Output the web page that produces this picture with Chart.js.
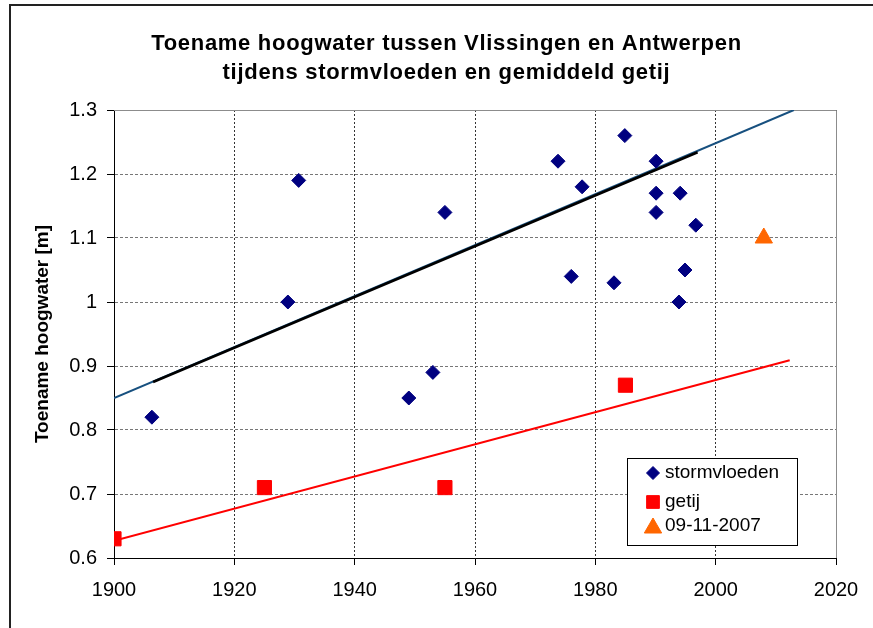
<!DOCTYPE html>
<html><head><meta charset="utf-8">
<script src="https://cdn.jsdelivr.net/npm/chart.js@4.4.0/dist/chart.umd.min.js"></script>
<style>html,body{margin:0;padding:0;background:#fff}#wrap{position:relative;width:873px;height:628px}</style>
</head><body><div id="wrap"><canvas id="c" width="873" height="628"></canvas></div>
<script>
// ---- data ----
const stormYears = [1906.3, 1928.9, 1930.7, 1949.0, 1953.0, 1955.0, 1973.8, 1976.0, 1977.8, 1983.1, 1984.9, 1990.1, 1990.1, 1990.1, 1993.9, 1994.1, 1994.9, 1996.7];
const stormRise  = [0.82, 1.00, 1.19, 0.85, 0.89, 1.14, 1.22, 1.04, 1.18, 1.03, 1.26, 1.22, 1.17, 1.14, 1.00, 1.17, 1.05, 1.12];
const tideYears  = [1900, 1925, 1955, 1985];
const tideRise   = [0.63, 0.71, 0.71, 0.87];
const eventYears = [2008];
const eventRise  = [1.10];
const stormTrendYears = [1900, 2013];
const stormTrendRise  = [0.85, 1.30];
const stormFitYears = [1906.5, 1997];
const stormFitRise  = [0.875, 1.234];
const tideTrendYears = [1900, 2012.3];
const tideTrendRise  = [0.627, 0.909];
const xTicks = [1900, 1920, 1940, 1960, 1980, 2000, 2020];
const yTicks = [0.6, 0.7, 0.8, 0.9, 1.0, 1.1, 1.2, 1.3];
const seriesLabels = ['stormvloeden', 'getij', '09-11-2007'];
const titleLines = ['Toename hoogwater tussen Vlissingen en Antwerpen', 'tijdens stormvloeden en gemiddeld getij'];
const yTitle = 'Toename hoogwater [m]';

const pts = (xs, ys) => xs.map((x, i) => ({x: x, y: ys[i]}));
const FONT = "'Liberation Sans', Arial, sans-serif";

const framePlugin = {
  id: 'frame',
  beforeDraw(chart) {
    const t = chart.titleBlock;
    if (t && !t._spaced) {
      const orig = t.draw;
      t.draw = function () {
        const ctx = this.ctx;
        const prev = ctx.letterSpacing;
        ctx.letterSpacing = '0.7px';
        orig.apply(this, arguments);
        ctx.letterSpacing = prev || '0px';
      };
      t._spaced = true;
    }
  },
  beforeDatasetsDraw(chart) {
    const {ctx, chartArea: a} = chart;
    ctx.save();
    ctx.strokeStyle = '#8c8c8c';
    ctx.lineWidth = 1;
    ctx.beginPath();
    ctx.moveTo(a.left, a.top + 0.5); ctx.lineTo(a.right + 0.5, a.top + 0.5); ctx.lineTo(a.right + 0.5, a.bottom);
    ctx.stroke();
    ctx.restore();
  },
  afterDraw(chart) {
    const {ctx} = chart;
    ctx.save();
    ctx.strokeStyle = '#222';
    ctx.lineWidth = 2;
    ctx.beginPath();
    ctx.moveTo(873, 5); ctx.lineTo(10, 5); ctx.lineTo(10, 628);
    ctx.stroke();
    // legend
    const bx = 627.5, by = 458.5, bw = 170, bh = 87;
    ctx.fillStyle = '#fff';
    ctx.fillRect(bx, by, bw, bh);
    ctx.strokeStyle = '#000';
    ctx.lineWidth = 1;
    ctx.strokeRect(bx, by, bw, bh);
    const rows = [473, 502, 526];
    const sizes = [6.5, 9, 10];
    ctx.font = '19px ' + FONT;
    ctx.textBaseline = 'middle';
    ctx.textAlign = 'left';
    for (let i = 0; i < 3; i++) {
      const ds = chart.data.datasets[i];
      ctx.fillStyle = ds.backgroundColor;
      ctx.strokeStyle = ds.borderColor;
      ctx.lineWidth = 1;
      Chart.helpers.drawPoint(ctx, {pointStyle: ds.pointStyle, radius: sizes[i], borderWidth: 1, rotation: 0}, 653, rows[i] + (i === 2 ? 2 : 0));
      ctx.fillStyle = '#000';
      ctx.fillText(ds.label, 665, rows[i]);
    }
    ctx.restore();
  }
};

new Chart(document.getElementById('c'), {
  type: 'scatter',
  data: {
    datasets: [
      {label: seriesLabels[0], data: pts(stormYears, stormRise), pointStyle: 'rectRot', pointRadius: 7, backgroundColor: '#000080', borderColor: '#000080', borderWidth: 1},
      {label: seriesLabels[1], data: pts(tideYears, tideRise), pointStyle: 'rect', pointRadius: 10, backgroundColor: '#ff0000', borderColor: '#ff0000', borderWidth: 1},
      {label: seriesLabels[2], data: pts(eventYears, eventRise), pointStyle: 'triangle', pointRadius: 10, backgroundColor: '#ff6600', borderColor: '#ff6600', borderWidth: 1},
      {label: 'fit', data: pts(stormFitYears, stormFitRise), showLine: true, pointRadius: 0, borderColor: '#000', borderWidth: 2.5},
      {label: 'trend storm', data: pts(stormTrendYears, stormTrendRise), showLine: true, pointRadius: 0, borderColor: '#17507f', borderWidth: 2},
      {label: 'trend getij', data: pts(tideTrendYears, tideTrendRise), showLine: true, pointRadius: 0, borderColor: '#ff0000', borderWidth: 2}
    ]
  },
  options: {
    responsive: false,
    animation: false,
    layout: {padding: {left: 20, right: 0, top: 0, bottom: 0}},
    plugins: {
      legend: {display: false},
      tooltip: {enabled: false},
      title: {
        display: true,
        text: titleLines,
        color: '#000',
        font: {family: FONT, size: 22, weight: 'bold', lineHeight: 29 / 22},
        padding: {top: 29, bottom: 23}
      }
    },
    scales: {
      x: {
        type: 'linear', min: 1900, max: 2020,
        afterBuildTicks: s => { s.ticks = xTicks.map(v => ({value: v})); },
        afterFit: s => { s.height = 70; s.paddingLeft = 0; s.paddingRight = 37; },
        ticks: {color: '#000', font: {family: FONT, size: 20}, padding: 13, maxRotation: 0, callback: v => String(v)},
        grid: {color: '#333', tickColor: '#000', tickLength: 7, lineWidth: 1},
        border: {display: true, color: '#000', width: 1, dash: [2, 2]}
      },
      y: {
        type: 'linear', min: 0.6, max: 1.3,
        afterBuildTicks: s => { s.ticks = yTicks.map(v => ({value: v})); },
        afterFit: s => { s.width = 94; },
        ticks: {color: '#000', font: {family: FONT, size: 20}, padding: 10, callback: v => String(Number(v.toFixed(1)))},
        grid: {color: '#777', tickColor: '#000', tickLength: 7, lineWidth: 1},
        border: {display: true, color: '#000', width: 1, dash: [3, 2]},
        title: {display: true, text: yTitle, color: '#000', font: {family: FONT, size: 19, weight: 'bold'}, padding: {top: 11, bottom: 0}}
      }
    }
  },
  plugins: [framePlugin]
});
</script>
</body></html>
